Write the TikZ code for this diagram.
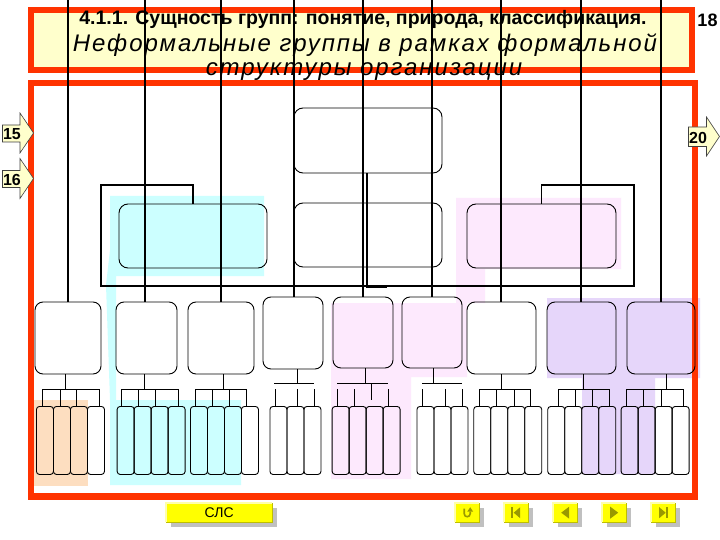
\documentclass[tikz,border=0pt]{standalone}
\usepackage{fontspec}
\setmainfont{Liberation Sans}
\usetikzlibrary{shadows}
\definecolor{frame}{RGB}{255,51,0}
\definecolor{titlebg}{RGB}{255,255,204}
\definecolor{cyanbg}{RGB}{204,255,255}
\definecolor{peachbg}{RGB}{253,222,192}
\definecolor{pinkbg}{RGB}{253,233,253}
\definecolor{lavbg}{RGB}{230,214,250}
\definecolor{btn}{RGB}{255,255,0}
\definecolor{btnshadow}{RGB}{192,192,192}
\definecolor{icon}{RGB}{153,153,0}
\definecolor{bevlightc}{RGB}{255,255,170}
\definecolor{bevdarkc}{RGB}{190,190,0}
\begin{document}
\begin{tikzpicture}[x=1pt,y=-1pt,
  redframe/.style={draw=frame, line width=6.5pt},
  rbox/.style={draw=black, line width=0.9pt, rounded corners=9pt, inner sep=0pt},
  sbox/.style={draw=black, line width=0.9pt, rounded corners=8pt, inner sep=0pt},
  leaf/.style={draw=black, line width=0.9pt, rounded corners=3pt, inner sep=0pt, minimum width=17pt, minimum height=68pt, anchor=north west},
  vline/.style={draw=black, line width=1.8pt},
  bus/.style={draw=black, line width=1.8pt},
  conn/.style={draw=black, line width=0.9pt},
  stem/.style={draw=black, line width=1.2pt},
  navarrow/.style={draw=black!75, fill=titlebg, line width=0.6pt},
  numlbl/.style={font=\fontsize{16}{16}\selectfont\bfseries, inner sep=0pt},
  btnface/.style={fill=btn, inner sep=0pt, anchor=north west, drop shadow={shadow xshift=5pt, shadow yshift=-5pt, fill=btnshadow, opacity=1}},
  bevlight/.style={draw=bevlightc, line width=1.5pt},
  bevdark/.style={draw=bevdarkc, line width=1.5pt},
  iconfill/.style={fill=icon, draw=none},
]
\useasboundingbox (0,0) rectangle (720,540);
\fill[white] (0,0) rectangle (720,540);

% title frame
\draw[redframe, fill=titlebg] (31,10) rectangle (692,70);

% coloured backgrounds
\fill[peachbg] (34,400) rectangle (88,486);
\fill[cyanbg] (110,196) -- (264,196) -- (264,276) -- (116,276) -- (116,400) -- (241,400) -- (241,485) -- (110,485) -- (110,400) -- (106,285) -- (110,250) -- cycle;
\fill[pinkbg] (456,198) -- (621,198) -- (621,269) -- (485,269) -- (485,303) -- (467,303) -- (467,377) -- (411,377) -- (411,479) -- (331,479) -- (331,303) -- (456,303) -- cycle;
\fill[lavbg] (547,298) -- (700,298) -- (700,378) -- (655,378) -- (655,474) -- (582,474) -- (582,378) -- (547,378) -- cycle;

% main frame
\draw[redframe] (31,83) rectangle (695,496.5);

% level 1 and 2
\node[rbox, minimum width=148pt, minimum height=65pt] (T) at (368,140.5) {};
\node[rbox, minimum width=148pt, minimum height=64pt] (L) at (193,236) {};
\node[rbox, minimum width=148pt, minimum height=64pt] (M) at (368,235) {};
\node[rbox, minimum width=149pt, minimum height=64pt] (R) at (541.5,236) {};

% level 3
\node[sbox, minimum width=66pt, minimum height=72pt] (b1) at (68,338) {};
\node[sbox, minimum width=61pt, minimum height=72pt] (b2) at (146.5,338) {};
\node[sbox, minimum width=66pt, minimum height=72pt] (b3) at (221,338) {};
\node[sbox, minimum width=60pt, minimum height=72pt] (b4) at (293,333) {};
\node[sbox, minimum width=60pt, minimum height=71pt] (b5) at (363,332.5) {};
\node[sbox, minimum width=60pt, minimum height=71pt] (b6) at (432,332.5) {};
\node[sbox, minimum width=69pt, minimum height=72pt] (b7) at (501.5,338) {};
\node[sbox, minimum width=69pt, minimum height=72pt] (b8) at (581.5,338) {};
\node[sbox, minimum width=68pt, minimum height=72pt] (b9) at (661,338) {};

% leaves
\foreach \g/\x/\n in {1/36/4, 2/116.7/4, 3/190/4, 4/269.5/3, 5/331.7/4, 6/416.5/3, 7/473.3/4, 8/547.3/4, 9/620.7/4} {
  \foreach \k in {1,...,\n} \node[leaf] (l\g-\k) at ({\x+17*(\k-1)},406) {};
}

% bus and brackets
\draw[bus] (L.north) |- (101,185) -- (101,286) -- (634,286) -- (634,185) -| (R.north);
\draw[bus] (T.south -| 367,0) -- (367,287) -- (387,287);

% group connectors (type A)
\draw[stem] (b1.south -| 65.7,0) -- (65.7,389);
\draw[conn] (42.7,389) -- (99.3,389);
\foreach \d in {42.7,60,76.7,99.3} \draw[conn] (\d,389) -- (\d,0 |- l1-1.north);
\draw[stem] (b2.south -| 144.3,0) -- (144.3,389);
\draw[conn] (121.7,389) -- (178.3,389);
\foreach \d in {121.7,138.3,155.7,178.3} \draw[conn] (\d,389) -- (\d,0 |- l2-1.north);
\draw[stem] (b3.south -| 223.3,0) -- (223.3,389);
\draw[conn] (195.7,389) -- (246.7,389);
\foreach \d in {195.7,212.7,229.3,246.7} \draw[conn] (\d,389) -- (\d,0 |- l3-1.north);
\draw[stem] (b7.south -| 501.7,0) -- (501.7,389);
\draw[conn] (479.3,389) -- (530.7,389);
\foreach \d in {479.3,496.7,514,530.7} \draw[conn] (\d,389) -- (\d,0 |- l7-1.north);
\draw[stem] (b8.south -| 583.3,0) -- (583.3,389);
\draw[conn] (558.3,389) -- (609.3,389);
\foreach \d in {558.3,575,592.7,609.3} \draw[conn] (\d,389) -- (\d,0 |- l8-1.north);
\draw[stem] (b9.south -| 666.7,0) -- (666.7,389);
\draw[conn] (626.7,389) -- (683.3,389);
\foreach \d in {626.7,643.3,661,683.3} \draw[conn] (\d,389) -- (\d,0 |- l9-1.north);

% group connectors (type B, with gap)
\draw[stem] (b4.south -| 297.3,0) -- (297.3,383.3);
\draw[conn] (274.3,383.3) -- (314.3,383.3);
\foreach \d in {275.7,297.3,314.3} \draw[conn] (\d,389) -- (\d,0 |- l4-1.north);
\draw[stem] (b5.south -| 365.7,0) -- (365.7,383.3);
\draw[conn] (337.3,383.3) -- (388.3,383.3);
\draw[conn] (371.7,383.3) -- (371.7,400);
\foreach \d in {337.3,354.3,388.3} \draw[conn] (\d,389) -- (\d,0 |- l5-1.north);
\draw[stem] (b6.south -| 433.3,0) -- (433.3,383.3);
\draw[conn] (422.3,383.3) -- (462.3,383.3);
\foreach \d in {422.3,445.3,462.3} \draw[conn] (\d,389) -- (\d,0 |- l6-1.north);

% title text
\node[anchor=base, inner sep=0pt] (h1) at (363,25) {\fontsize{19.5}{20}\selectfont\bfseries 4.1.1. Сущность групп: понятие, природа, классификация.};
\node[anchor=base, inner sep=0pt] (h2) at (365,52) {\fontsize{24}{24}\selectfont\itshape\addfontfeature{LetterSpace=8}Неформальные группы в рамках формальной};
\node[anchor=base, inner sep=0pt] (h3) at (364,76) {\fontsize{24}{24}\selectfont\itshape\addfontfeature{LetterSpace=8}структуры организации};
\node[anchor=base, inner sep=0pt] (pg) at (707.5,27) {\fontsize{18}{20}\selectfont\bfseries 18};

% long vertical lines
\foreach \i/\x in {1/68,2/145,3/221,4/294,5/363,6/432,7/501,8/581,9/661} {
  \coordinate (t\i) at (\x,0);
  \draw[vline] (t\i) -- (t\i |- b\i.north);
}

% side arrows
\draw[navarrow] (2.5,125) -- (20,125) -- (20,113) -- (33.5,133) -- (20,153) -- (20,142) -- (2.5,142) -- cycle;
\node[numlbl] (a15) at (12,134) {15};
\draw[navarrow] (2.5,170.5) -- (20,170.5) -- (20,158.5) -- (33.5,178.5) -- (20,198.5) -- (20,187.5) -- (2.5,187.5) -- cycle;
\node[numlbl] (a16) at (12,179.5) {16};
\draw[navarrow] (688.5,127) -- (706.5,127) -- (706.5,117) -- (719.5,136.5) -- (706.5,156) -- (706.5,146.5) -- (688.5,146.5) -- cycle;
\node[numlbl] (a20) at (698,137.5) {20};

% bottom buttons
\node[btnface, minimum width=106pt, minimum height=19pt] (slc) at (166,503) {};
\draw[bevlight] (slc.south west) -- (slc.north west) -- (slc.north east);
\draw[bevdark] (slc.north east) -- (slc.south east) -- (slc.south west);
\node[inner sep=0pt, font=\fontsize{14}{14}\selectfont] at (slc.center) {СЛС};
\foreach \i/\x in {1/455,2/504,3/553,4/602,5/651} {
  \node[btnface, minimum width=24pt, minimum height=19pt] (n\i) at (\x,503) {};
  \draw[bevlight] (n\i.south west) -- (n\i.north west) -- (n\i.north east);
  \draw[bevdark] (n\i.north east) -- (n\i.south east) -- (n\i.south west);
}
\begin{scope}[shift={(n1.center)}]
  \draw[icon, line width=1.6pt] (-3,-4) -- (-3,1) .. controls (-3,5) and (3,5) .. (3,1) -- (3,-1);
  \fill[iconfill] (0,-1) -- (6,-1) -- (3,-5.5) -- cycle;
\end{scope}
\begin{scope}[shift={(n2.center)}]
  \fill[iconfill] (-5,-5.5) rectangle (-3,5.5);
  \fill[iconfill] (4,-5.5) -- (4,5.5) -- (-2.5,0) -- cycle;
\end{scope}
\begin{scope}[shift={(n3.center)}]
  \fill[iconfill] (4,-6) -- (4,6) -- (-4,0) -- cycle;
\end{scope}
\begin{scope}[shift={(n4.center)}]
  \fill[iconfill] (-4,-6) -- (-4,6) -- (4,0) -- cycle;
\end{scope}
\begin{scope}[shift={(n5.center)}]
  \fill[iconfill] (-4,-5.5) -- (-4,5.5) -- (2.5,0) -- cycle;
  \fill[iconfill] (3,-5.5) rectangle (5,5.5);
\end{scope}
\end{tikzpicture}
\end{document}
